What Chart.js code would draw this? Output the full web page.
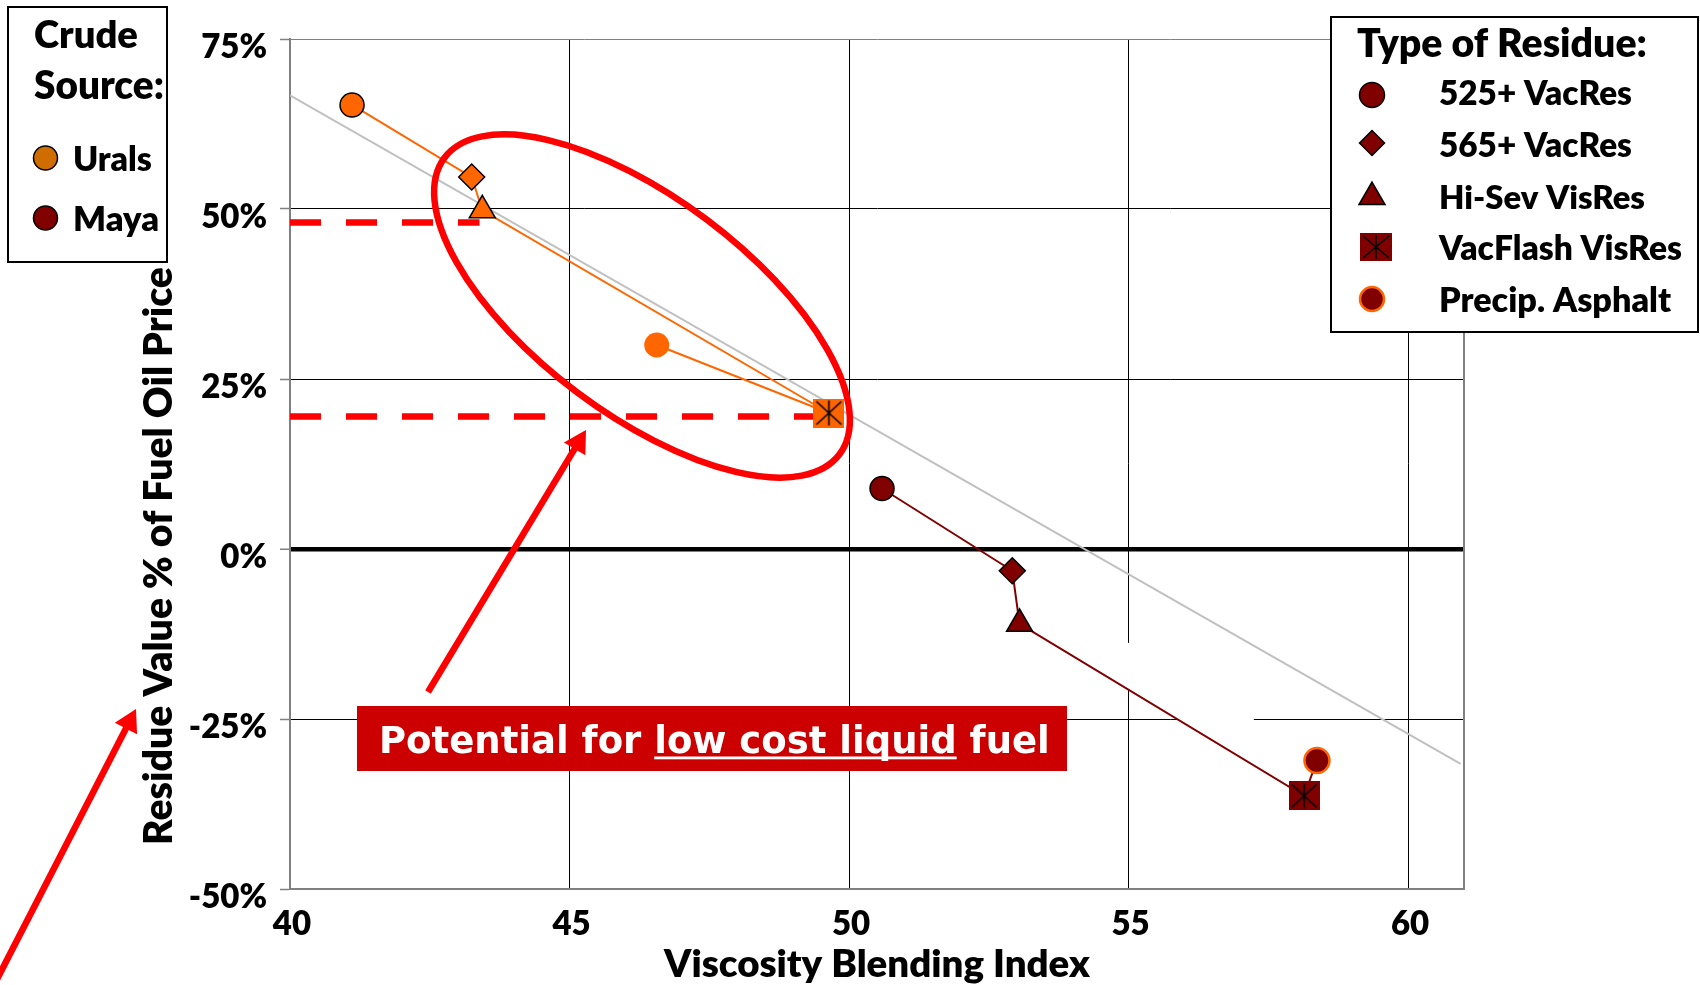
<!DOCTYPE html>
<html>
<head>
<meta charset="utf-8">
<script src="https://cdn.jsdelivr.net/npm/chart.js@4.4.1/dist/chart.umd.min.js"></script>
<style>
  html, body { margin: 0; padding: 0; background: #ffffff; }
  canvas { display: block; }
</style>
</head>
<body>
<canvas id="chart" width="1700" height="985"></canvas>
<script>
// ---- Data -------------------------------------------------------------
// Residue types, in the order each crude's line runs through them
const residueTypes = ['525+ VacRes', '565+ VacRes', 'Hi-Sev VisRes', 'VacFlash VisRes', 'Precip. Asphalt'];
const crudeSources = ['Urals', 'Maya'];

// Viscosity Blending Index and residue value (% of fuel oil price)
const uralsVBI   = [41.11, 43.25, 43.44, 49.64, 46.56];
const uralsValue = [65.3, 54.7, 49.8, 20.0, 30.0];
const mayaVBI    = [50.59, 52.92, 53.05, 58.14, 58.37];
const mayaValue  = [8.9, -3.2, -11.0, -36.3, -31.1];

// Overall trend across both crudes
const trendVBI   = [40, 60.94];
const trendValue = [66.7, -31.6];

// Dashed guide levels for the low-cost liquid fuel window
const guideLevels = [48.0, 19.5];
const guideEndVBI = [43.39, 49.36];

// Axis ticks
const xTicks = [40, 45, 50, 55, 60];
const yTicks = [-50, -25, 0, 25, 50, 75];

// ---- Styles -----------------------------------------------------------
const URALS = '#FF6600';
const URALS_KEY = '#CF6D00';
const MAYA = '#800000';
const RED = '#FF0000';
const FONT = 'Lato';
const WEIGHT = '800';

// Pick a font size so that a text run spans the wanted width
function fitFont(ctx, text, width) {
  ctx.font = `${WEIGHT} 40px ${FONT}`;
  const size = 40 * width / ctx.measureText(text).width;
  ctx.font = `${WEIGHT} ${size.toFixed(2)}px ${FONT}`;
}

// Square marker with an asterisk, used for the VacFlash residue
function starSquare(fill, w, h) {
  const c = document.createElement('canvas');
  c.width = w; c.height = h;
  const g = c.getContext('2d');
  g.fillStyle = fill;
  g.fillRect(0, 0, w, h);
  g.strokeStyle = '#000';
  g.lineWidth = 1.6;
  g.beginPath();
  g.moveTo(w / 2, 2); g.lineTo(w / 2, h - 2);
  g.moveTo(3, 3); g.lineTo(w - 3, h - 3);
  g.moveTo(w - 3, 3); g.lineTo(3, h - 3);
  g.stroke();
  return c;
}

function crudeDataset(label, xs, ys, color, precipBorder, order) {
  const square = starSquare(color, 31, 29);
  return {
    label,
    data: xs.map((x, i) => ({ x, y: ys[i] })),
    showLine: true,
    borderColor: color,
    borderWidth: 2,
    pointStyle: ['circle', 'rectRot', 'triangle', square, 'circle'],
    pointRadius: [12, 13, 15, 15, 12.5],
    pointBackgroundColor: color,
    pointBorderColor: ['#000', '#000', '#000', '#000', precipBorder],
    pointBorderWidth: [1.5, 1.5, 1.5, 0, precipBorder === color ? 0 : 2.5],
    order
  };
}

// Marker shapes for the key boxes
function drawMarker(ctx, style, x, y, r, fill, stroke, lw) {
  ctx.save();
  ctx.fillStyle = fill;
  ctx.strokeStyle = stroke;
  ctx.lineWidth = lw;
  ctx.beginPath();
  if (style === 'circle') {
    ctx.arc(x, y, r, 0, Math.PI * 2);
  } else if (style === 'rectRot') {
    ctx.moveTo(x - r, y); ctx.lineTo(x, y - r); ctx.lineTo(x + r, y); ctx.lineTo(x, y + r); ctx.closePath();
  } else if (style === 'triangle') {
    ctx.moveTo(x, y - r);
    ctx.lineTo(x + r * Math.sin(2 * Math.PI / 3), y + r / 2);
    ctx.lineTo(x - r * Math.sin(2 * Math.PI / 3), y + r / 2);
    ctx.closePath();
  }
  ctx.fill();
  if (lw > 0) ctx.stroke();
  ctx.restore();
}

function drawArrow(ctx, x0, y0, x1, y1, width, headLen, headW) {
  const dx = x1 - x0, dy = y1 - y0, len = Math.hypot(dx, dy);
  const ux = dx / len, uy = dy / len, nx = -uy, ny = ux;
  const bx = x1 - ux * headLen, by = y1 - uy * headLen;
  ctx.save();
  ctx.strokeStyle = RED; ctx.fillStyle = RED;
  ctx.lineWidth = width;
  ctx.beginPath(); ctx.moveTo(x0, y0); ctx.lineTo(bx + ux * 2, by + uy * 2); ctx.stroke();
  ctx.beginPath();
  ctx.moveTo(x1, y1);
  ctx.lineTo(bx + nx * headW / 2, by + ny * headW / 2);
  ctx.lineTo(bx - nx * headW / 2, by - ny * headW / 2);
  ctx.closePath(); ctx.fill();
  ctx.restore();
}

// Grid frame pieces and the blank text box lying along the Maya line
const underlayPlugin = {
  id: 'underlay',
  beforeDatasetsDraw(chart) {
    const { ctx, chartArea: a, scales: { x, y } } = chart;
    ctx.save();
    // blank box above the Hi-Sev -> VacFlash segment of Maya
    const p1 = [x.getPixelForValue(mayaVBI[2]), y.getPixelForValue(mayaValue[2])];
    const p2 = [x.getPixelForValue(mayaVBI[3]), y.getPixelForValue(mayaValue[3])];
    const len = Math.hypot(p2[0] - p1[0], p2[1] - p1[1]);
    const ux = (p2[0] - p1[0]) / len, uy = (p2[1] - p1[1]) / len;
    const nx = uy, ny = -ux, t0 = 60, t1 = 250, h = 40;
    ctx.fillStyle = '#ffffff';
    ctx.beginPath();
    ctx.moveTo(p1[0] + ux * t0, p1[1] + uy * t0);
    ctx.lineTo(p1[0] + ux * t1, p1[1] + uy * t1);
    ctx.lineTo(p1[0] + ux * t1 + nx * h, p1[1] + uy * t1 + ny * h);
    ctx.lineTo(p1[0] + ux * t0 + nx * h, p1[1] + uy * t0 + ny * h);
    ctx.closePath(); ctx.fill();
    // right edge of the plot frame
    ctx.strokeStyle = '#808080'; ctx.lineWidth = 2;
    ctx.beginPath(); ctx.moveTo(a.right, a.top); ctx.lineTo(a.right, a.bottom); ctx.stroke();
    ctx.restore();
  }
};

const overlayPlugin = {
  id: 'overlay',
  afterDraw(chart) {
    const { ctx } = chart;
    ctx.save();

    // Axis titles
    ctx.fillStyle = '#000';
    ctx.textAlign = 'center';
    ctx.textBaseline = 'alphabetic';
    fitFont(ctx, 'Viscosity Blending Index', 426);
    ctx.fillText('Viscosity Blending Index', 877, 977);
    ctx.save();
    ctx.translate(172, 556);
    ctx.rotate(-Math.PI / 2);
    fitFont(ctx, 'Residue Value % of Fuel Oil Price', 578);
    ctx.fillText('Residue Value % of Fuel Oil Price', 0, 0);
    ctx.restore();

    // Ellipse around the low-cost window
    ctx.strokeStyle = RED;
    ctx.lineWidth = 6.5;
    ctx.beginPath();
    ctx.ellipse(642, 306, 247, 108, 36.9 * Math.PI / 180, 0, Math.PI * 2);
    ctx.stroke();

    // Arrows
    drawArrow(ctx, 428, 692, 586, 430, 6.5, 22, 25);
    drawArrow(ctx, -6, 985, 136, 709, 6.5, 22, 25);

    // Callout box
    ctx.fillStyle = '#CC0000';
    ctx.fillRect(357, 706, 710, 65);
    ctx.fillStyle = '#ffffff';
    ctx.font = 'bold 37px "DejaVu Sans"';
    ctx.textAlign = 'left';
    let tx = 379;
    const parts = ['Potential for ', 'low cost liquid', ' fuel'];
    parts.forEach((p, i) => {
      ctx.fillText(p, tx, 753);
      const w = ctx.measureText(p).width;
      if (i === 1) ctx.fillRect(tx, 756.5, w, 2.8);
      tx += w;
    });

    // Crude source key
    ctx.fillStyle = '#ffffff';
    ctx.fillRect(8, 7, 159, 255);
    ctx.strokeStyle = '#000'; ctx.lineWidth = 2;
    ctx.strokeRect(8, 7, 159, 255);
    ctx.fillStyle = '#000';
    fitFont(ctx, 'Crude', 104);
    ctx.fillText('Crude', 34, 48);
    fitFont(ctx, 'Source:', 130);
    ctx.fillText('Source:', 34, 99);
    const keyFill = [URALS_KEY, MAYA];
    const keyY = [158, 218];
    const keyW = [79, 86];
    crudeSources.forEach((name, i) => {
      drawMarker(ctx, 'circle', 45.5, keyY[i], 12, keyFill[i], '#000', 1.5);
      ctx.fillStyle = '#000';
      fitFont(ctx, name, keyW[i]);
      ctx.fillText(name, 73, keyY[i] + 13);
    });

    // Residue type key
    ctx.fillStyle = '#ffffff';
    ctx.fillRect(1331, 17, 367, 315);
    ctx.strokeStyle = '#000'; ctx.lineWidth = 2;
    ctx.strokeRect(1331, 17, 367, 315);
    ctx.fillStyle = '#000';
    fitFont(ctx, 'Type of Residue:', 290);
    ctx.fillText('Type of Residue:', 1357, 57);
    const rowBase = [105, 157, 209, 260, 312];
    const rowMark = [95, 143, 197, 247, 299];
    const rowW = [193, 193, 206, 243, 232];
    residueTypes.forEach((name, i) => {
      if (i === 3) {
        ctx.drawImage(starSquare(MAYA, 32, 28), 1360, rowMark[i] - 14);
      } else {
        const style = ['circle', 'rectRot', 'triangle', null, 'circle'][i];
        const r = [12.5, 12.5, 15, 0, 12][i];
        const edge = i === 4 ? URALS : '#000';
        drawMarker(ctx, style, 1372, rowMark[i], r, MAYA, edge, i === 4 ? 2.5 : 1.5);
      }
      ctx.fillStyle = '#000';
      fitFont(ctx, name, rowW[i]);
      ctx.fillText(name, 1439, rowBase[i]);
    });

    ctx.restore();
  }
};

function build() {
  const tickFont = { family: FONT, weight: WEIGHT, size: 33 };
  const datasets = [
    crudeDataset(crudeSources[0], uralsVBI, uralsValue, URALS, URALS, 0),
    crudeDataset(crudeSources[1], mayaVBI, mayaValue, MAYA, URALS, 1),
    {
      label: 'Trend',
      data: trendVBI.map((x, i) => ({ x, y: trendValue[i] })),
      showLine: true, borderColor: '#C0C0C0', borderWidth: 2,
      pointRadius: 0, order: 6
    }
  ];
  guideLevels.forEach((lvl, i) => {
    datasets.push({
      label: 'Guide ' + (i + 1),
      data: [{ x: xTicks[0], y: lvl }, { x: guideEndVBI[i], y: lvl }],
      showLine: true, borderColor: RED, borderWidth: 6.5,
      borderDash: [31, 25], borderCapStyle: 'butt',
      pointRadius: 0, order: 3
    });
  });

  new Chart(document.getElementById('chart'), {
    type: 'scatter',
    data: { datasets },
    options: {
      responsive: false,
      animation: false,
      devicePixelRatio: 1,
      layout: { padding: { top: 39, right: 236, bottom: 0, left: 0 } },
      plugins: { legend: { display: false }, tooltip: { enabled: false } },
      scales: {
        x: {
          type: 'linear', min: 40, max: 61,
          afterBuildTicks: s => { s.ticks = xTicks.map(v => ({ value: v })); },
          afterFit: s => { s.height = 96; },
          grid: { color: '#000', lineWidth: 1, drawTicks: false },
          border: { color: '#808080', width: 2 },
          ticks: { font: tickFont, color: '#000', padding: 16, labelOffset: 2, maxRotation: 0, autoSkip: false }
        },
        y: {
          type: 'linear', min: -50, max: 75,
          afterBuildTicks: s => { s.ticks = yTicks.map(v => ({ value: v })); },
          afterFit: s => { s.width = 290; },
          grid: {
            color: c => (c.tick && c.tick.value === 75) ? '#808080' : '#000',
            lineWidth: c => (c.tick && c.tick.value === 0) ? 4.5 : 1,
            tickLength: 10, tickColor: '#808080', tickWidth: 1.5
          },
          border: { color: '#808080', width: 2 },
          ticks: { font: tickFont, color: '#000', padding: 13, labelOffset: 8, callback: v => v + '%' }
        }
      }
    },
    plugins: [underlayPlugin, overlayPlugin]
  });
}

Promise.all([
  document.fonts.load(`${WEIGHT} 32px ${FONT}`),
  document.fonts.load('bold 37px "DejaVu Sans"')
]).then(build, build);
</script>
</body>
</html>
